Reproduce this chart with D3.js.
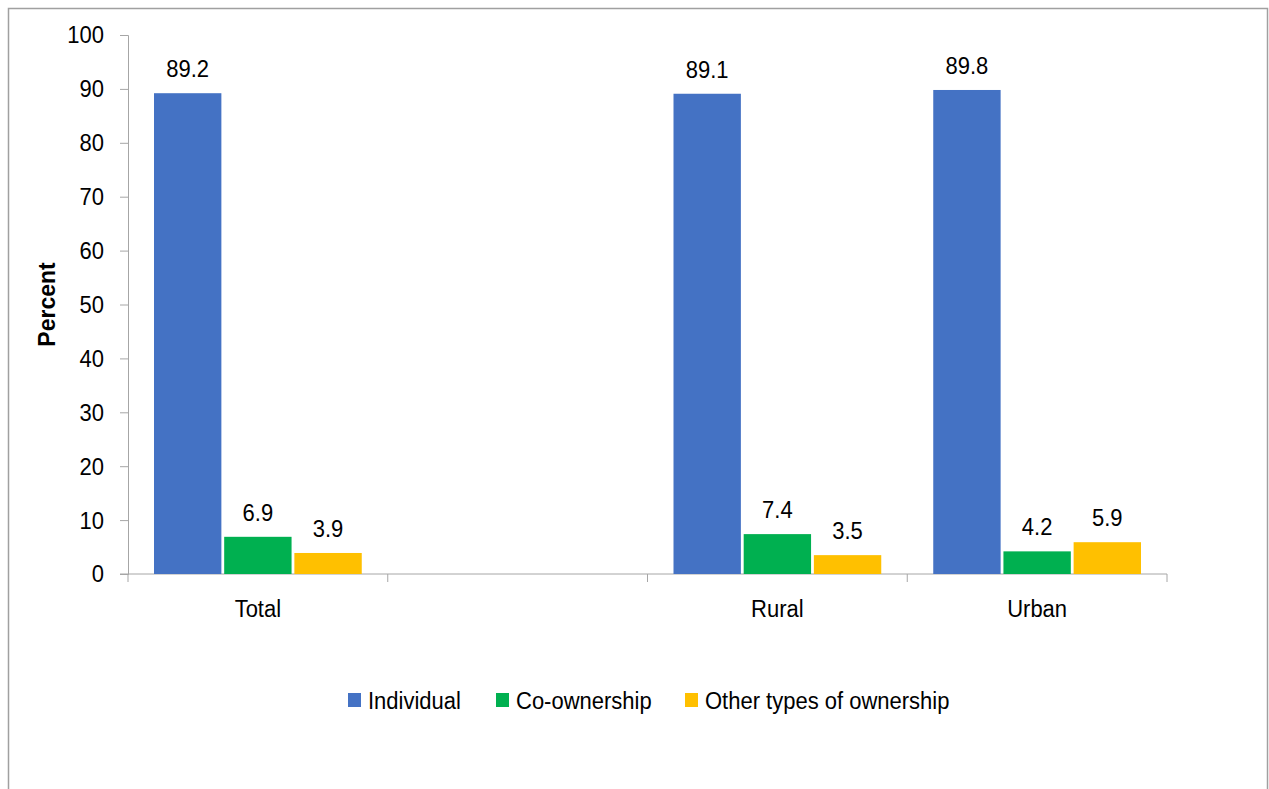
<!DOCTYPE html>
<html>
<head>
<meta charset="utf-8">
<script src="https://cdn.jsdelivr.net/npm/d3@7"></script>
<style>
    body { margin: 0; background: #fff; }
    text { font-family: "Liberation Sans", Arial, sans-serif; fill: #000; }
</style>
</head>
<body>
<svg id="chart" width="1269" height="789"></svg>
<script>
    "use strict";

    // categories on the x axis (second slot is left empty in the original)
    var categories = ["Total", "", "Rural", "Urban"]
    var series = ["Individual", "Co-ownership", "Other types of ownership"]
    var colors = ["#4472C4", "#00B050", "#FFC000"]

    var individual = [89.2, null, 89.1, 89.8]
    var coOwnership = [6.9, null, 7.4, 4.2]
    var otherTypes = [3.9, null, 3.5, 5.9]

    var yTicks = [0, 10, 20, 30, 40, 50, 60, 70, 80, 90, 100]

    var values = [individual, coOwnership, otherTypes]

    var svg = d3.select("#chart")
    var axisColor = "#a6a6a6"
    var fontSize = 22
    // the original text is a bit taller than it is wide
    var stretch = " scale(1,1.1)"

    function place(px, py) {
        return "translate(" + px + "," + py + ")" + stretch
    }

    // outer frame
    svg.append("rect")
        .attr("x", 8.5).attr("y", 8.5)
        .attr("width", 1259).attr("height", 820)
        .attr("fill", "none")
        .attr("stroke", "#a0a0a0")
        .attr("stroke-width", 1.5)

    var plotLeft = 128, plotRight = 1167, plotTop = 35, plotBottom = 574

    var x = d3.scaleBand().domain(d3.range(categories.length)).range([plotLeft, plotRight])
    var xInner = d3.scaleBand().domain(d3.range(series.length))
        .range([26, x.bandwidth() - 26]).paddingInner(0.04)
    var y = d3.scaleLinear().domain([0, 100]).range([plotBottom, plotTop])

    var g = svg.append("g")

    // y axis
    var yAxis = d3.axisLeft(y).tickValues(yTicks).tickSize(8).tickPadding(16)
    var gy = g.append("g").attr("transform", "translate(" + plotLeft + ",0)").call(yAxis)
    gy.attr("font-family", null).attr("font-size", null)
    gy.select(".domain").attr("stroke", axisColor)
    gy.selectAll(".tick line").attr("stroke", axisColor)
    gy.selectAll(".tick text")
        .attr("font-size", fontSize)
        .attr("dy", "0.33em")
        .attr("transform", stretch)

    // x axis: ticks sit on the category boundaries
    var gx = g.append("g").attr("transform", "translate(0," + plotBottom + ")")
    gx.append("line")
        .attr("x1", plotLeft - 8).attr("x2", plotRight)
        .attr("stroke", axisColor)
    var bounds = d3.range(categories.length + 1).map(function(i) {
        return i < categories.length ? x(i) : x(i - 1) + x.bandwidth()
    })
    gx.selectAll(".xtick").data(bounds).enter()
        .append("line")
        .attr("class", "xtick")
        .attr("x1", function(d) { return d }).attr("x2", function(d) { return d })
        .attr("y1", 0).attr("y2", 8)
        .attr("stroke", axisColor)
    gx.selectAll(".xlabel").data(categories).enter()
        .append("text")
        .attr("class", "xlabel")
        .attr("transform", function(d, i) { return place(x(i) + x.bandwidth() / 2, 43) })
        .attr("text-anchor", "middle")
        .attr("font-size", fontSize)
        .text(function(d) { return d })

    // bars
    series.forEach(function(s, si) {
        var data = values[si].map(function(v, i) { return {i: i, v: v} })
            .filter(function(d) { return d.v !== null })
        var sg = g.append("g").attr("class", "series")
        sg.selectAll("rect").data(data).enter()
            .append("rect")
            .attr("x", function(d) { return x(d.i) + xInner(si) })
            .attr("width", xInner.bandwidth())
            .attr("y", function(d) { return y(d.v) })
            .attr("height", function(d) { return y(0) - y(d.v) })
            .attr("fill", colors[si])
        sg.selectAll("text").data(data).enter()
            .append("text")
            .attr("transform", function(d) {
                return place(x(d.i) + xInner(si) + xInner.bandwidth() / 2, y(d.v) - 16)
            })
            .attr("text-anchor", "middle")
            .attr("font-size", fontSize)
            .text(function(d) { return d.v.toFixed(1) })
    })

    // y axis title
    svg.append("text")
        .attr("transform", "translate(55," + ((plotTop + plotBottom) / 2) + ") rotate(-90)")
        .attr("text-anchor", "middle")
        .attr("font-size", 23)
        .attr("font-weight", "bold")
        .text("Percent")

    // legend
    var legendX = [348, 496, 685]
    var legend = svg.append("g").attr("transform", "translate(0,700)")
    var items = legend.selectAll("g").data(series).enter()
        .append("g")
        .attr("transform", function(d, i) { return "translate(" + legendX[i] + ",0)" })
    items.append("rect")
        .attr("x", 0).attr("y", -7)
        .attr("width", 13).attr("height", 14)
        .attr("fill", function(d, i) { return colors[i] })
    items.append("text")
        .attr("transform", place(20, 8.5))
        .attr("font-size", fontSize)
        .text(function(d) { return d })
</script>
</body>
</html>
